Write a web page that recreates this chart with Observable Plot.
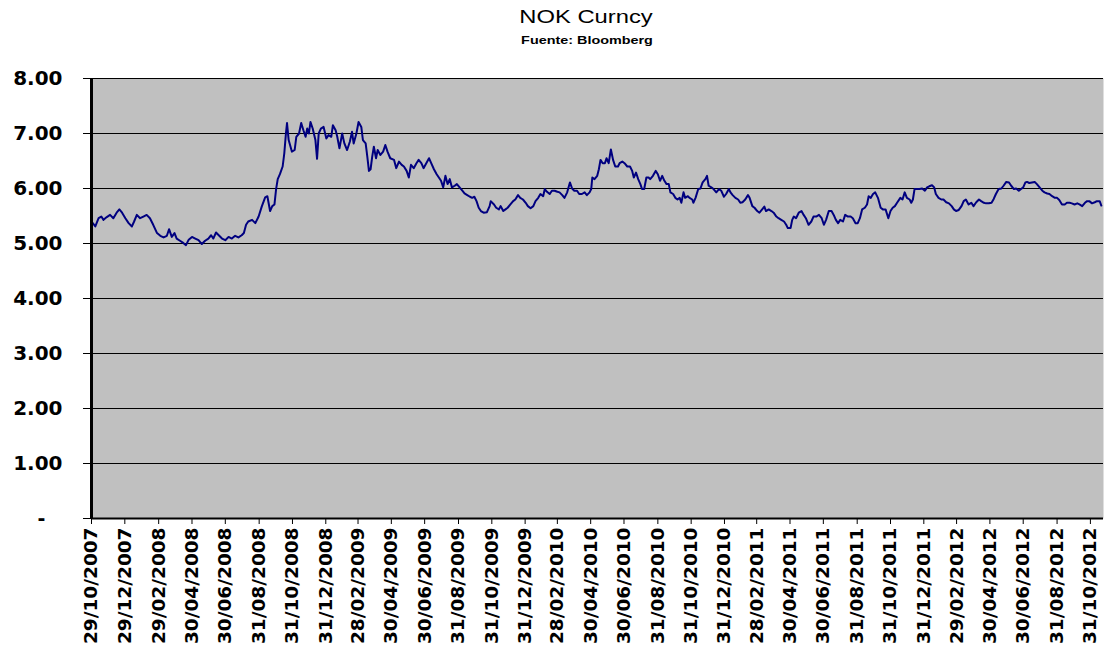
<!DOCTYPE html>
<html>
<head>
<meta charset="utf-8">
<script src="https://cdn.jsdelivr.net/npm/d3@7"></script>
<script src="https://cdn.jsdelivr.net/npm/@observablehq/plot@0.6"></script>
<style>
  body { margin: 0; background: #fff; }
  #wrap { position: relative; width: 1106px; height: 651px; overflow: hidden; }
  #wrap svg { position: absolute; left: 0; top: 0; }
  .ttl { position: absolute; white-space: nowrap; transform: translateX(-50%) scaleX(1.25); transform-origin: center; color: #000; z-index: 2; }
  #title { left: 586px; top: 6px; font: 19px "Liberation Sans", Arial, sans-serif; }
  #subtitle { left: 587px; top: 34px; font: bold 11.5px "Liberation Sans", Arial, sans-serif; }
</style>
</head>
<body>
<div id="wrap">
  <div id="title" class="ttl">NOK Curncy</div>
  <div id="subtitle" class="ttl">Fuente: Bloomberg</div>
</div>
<script>
// Series start date; x values are days elapsed since this date
const startDate = "2007-10-29";

const dayOffset = [
  0,7,13,18,22,28,34,40,46,51,56,62,68,74,78,83,89,95,101,107,113,120,126,132,138,142,147,152,156,162,168,173,178,184,190,196,202,208,214,219,223,228,233,239,245,251,257,263,269,275,279,283,287,294,300,306,312,318,322,327,331,335,338,341,345,350,353,356,358,361,
  367,372,375,380,384,388,392,395,398,401,405,410,413,416,420,425,430,434,439,442,447,450,454,459,463,468,473,477,480,485,489,494,497,502,505,508,511,514,517,521,524,529,534,538,542,547,554,558,563,568,572,577,581,585,590,595,599,604,608,613,618,622,627,632,636,640,644,648,652,656,660,665,669,674,679,683,688,693,697,701,705,709,713,718,724,729,
  731,737,741,746,749,754,758,762,767,772,776,781,785,790,795,799,804,809,813,818,822,827,830,834,839,843,848,853,857,862,866,871,876,880,884,889,893,898,903,907,912,915,917,921,926,929,932,936,940,943,947,951,955,959,964,967,972,976,981,986,990,993,997,1001,1005,1008,1012,1016,1020,1023,1028,1033,1037,1041,1045,1049,1053,1057,1060,1065,1069,1073,1077,1080,1084,1087,1092,1095,1100,1102,
  1106,1111,1115,1119,1124,1127,1130,1135,1139,1144,1149,1153,1158,1162,1167,1170,1174,1179,1184,1188,1192,1197,1202,1205,1210,1214,1219,1223,1228,1232,1235,1240,1245,1249,1254,1258,1263,1268,1272,1275,1280,1283,1286,1290,1295,1300,1304,1308,1313,1318,1322,1327,1332,1337,1341,1345,1350,1355,1359,1363,1367,1371,1376,1380,1385,1390,1394,1399,1403,1407,1411,1416,1420,1423,1427,1431,1435,1440,1445,1449,1454,1459,1463,1467,1471,1475,
  1481,1485,1489,1493,1498,1501,1504,1507,1512,1516,1521,1526,1530,1534,1539,1543,1546,1551,1556,1560,1565,1570,1575,1579,1583,1588,1593,1597,1601,1606,1611,1615,1620,1625,1629,1634,1638,1643,1648,1652,1656,1661,1666,1670,1675,1680,1684,1689,1693,1698,1702,1706,1710,1713,1717,1722,1727,1731,1736,1741,1745,1750,1754,1759,1764,1768,1772,1777,1782,1786,1791,1795,1800,1805,1809,1814,1819,1823,1827,1832,1837,1841,1846,1849
];

const nokRate = [
  5.40,5.31,5.46,5.49,5.43,5.48,5.52,5.46,5.56,5.62,5.56,5.46,5.37,5.31,5.40,5.52,5.46,5.49,5.52,5.46,5.34,5.19,5.14,5.11,5.14,5.26,5.12,5.19,5.09,5.05,5.01,4.97,5.07,5.12,5.09,5.06,4.99,5.05,5.09,5.15,5.09,5.20,5.15,5.09,5.06,5.12,5.09,5.14,5.11,5.15,5.19,5.34,5.40,5.43,5.37,5.49,5.68,5.84,5.86,5.59,5.68,5.71,5.99,6.17,6.26,6.40,6.64,7.00,7.19,6.88,
  6.67,6.70,6.94,7.00,7.19,7.06,6.94,7.09,7.00,7.21,7.09,6.88,6.54,7.00,7.09,7.12,6.91,6.97,6.94,7.15,7.06,6.94,6.73,7.00,6.82,6.70,6.85,7.03,6.82,7.00,7.21,7.12,6.88,6.82,6.58,6.32,6.35,6.58,6.76,6.55,6.70,6.61,6.67,6.79,6.67,6.55,6.52,6.37,6.49,6.43,6.40,6.32,6.20,6.43,6.37,6.46,6.52,6.46,6.37,6.46,6.55,6.46,6.35,6.26,6.20,6.14,6.02,6.23,6.08,6.17,6.02,6.05,6.08,6.02,5.96,5.91,5.88,5.85,5.83,5.85,5.77,5.65,5.59,5.56,5.57,5.68,
  5.77,5.71,5.65,5.62,5.68,5.59,5.62,5.65,5.71,5.77,5.80,5.88,5.83,5.80,5.74,5.68,5.64,5.68,5.77,5.83,5.90,5.86,5.99,5.94,5.90,5.96,5.96,5.94,5.93,5.88,5.83,5.93,6.11,6.00,5.96,5.96,5.90,5.90,5.93,5.88,5.93,5.99,6.20,6.17,6.23,6.35,6.52,6.46,6.46,6.55,6.46,6.71,6.52,6.40,6.40,6.46,6.49,6.46,6.40,6.40,6.32,6.20,6.29,6.17,6.08,5.99,5.99,6.20,6.20,6.17,6.23,6.32,6.26,6.14,6.23,6.14,6.08,6.08,5.93,5.90,5.83,5.80,5.83,5.74,5.93,5.83,5.86,5.83,5.80,5.74,
  5.83,5.99,6.00,6.11,6.17,6.23,6.05,6.02,5.99,5.93,5.99,5.96,5.85,5.90,5.99,5.93,5.88,5.83,5.80,5.74,5.75,5.80,5.88,5.83,5.68,5.65,5.59,5.56,5.62,5.67,5.59,5.62,5.59,5.56,5.49,5.46,5.43,5.40,5.34,5.28,5.28,5.43,5.49,5.46,5.56,5.59,5.52,5.46,5.34,5.40,5.49,5.49,5.52,5.46,5.34,5.43,5.59,5.59,5.52,5.43,5.37,5.43,5.40,5.52,5.49,5.49,5.46,5.37,5.37,5.46,5.62,5.65,5.71,5.86,5.83,5.90,5.93,5.83,5.65,5.62,5.62,5.46,5.59,5.65,5.68,5.74,
  5.83,5.80,5.93,5.83,5.80,5.74,5.80,5.99,5.99,5.99,6.00,5.96,6.02,6.04,6.06,6.02,5.90,5.83,5.80,5.80,5.75,5.73,5.68,5.62,5.59,5.61,5.68,5.77,5.80,5.71,5.74,5.68,5.75,5.80,5.77,5.74,5.73,5.73,5.74,5.81,5.90,5.99,6.00,6.05,6.12,6.11,6.05,5.99,6.00,5.96,5.99,6.02,6.11,6.12,6.10,6.11,6.12,6.08,6.02,5.96,5.93,5.91,5.90,5.86,5.83,5.83,5.79,5.71,5.71,5.74,5.74,5.73,5.71,5.73,5.71,5.68,5.74,5.77,5.77,5.73,5.75,5.77,5.77,5.69
];

const xTickLabels = [
  "29/10/2007","29/12/2007","29/02/2008","30/04/2008","30/06/2008","31/08/2008","31/10/2008","31/12/2008",
  "28/02/2009","30/04/2009","30/06/2009","31/08/2009","31/10/2009","31/12/2009","28/02/2010","30/04/2010",
  "30/06/2010","31/08/2010","31/10/2010","31/12/2010","28/02/2011","30/04/2011","30/06/2011","31/08/2011",
  "31/10/2011","31/12/2011","29/02/2012","30/04/2012","30/06/2012","31/08/2012","31/10/2012"
];
const yTicks = [0,1,2,3,4,5,6,7,8];
const domainEndDays = 1853;

const start = d3.utcParse("%Y-%m-%d")(startDate);
const parseTick = d3.utcParse("%d/%m/%Y");
const tickDates = xTickLabels.map(parseTick);
const data = dayOffset.map((d, i) => ({date: d3.utcDay.offset(start, d), value: nokRate[i]}));

const chart = Plot.plot({
  width: 1106,
  height: 651,
  marginLeft: 91,
  marginRight: 3,
  marginTop: 78,
  marginBottom: 133,
  style: {fontFamily: "DejaVu Sans", fontWeight: "bold", fontSize: "19px", background: "transparent", color: "#000"},
  x: {type: "utc", domain: [start, d3.utcDay.offset(start, domainEndDays)], label: null},
  y: {domain: [0, 8], label: null},
  marks: [
    Plot.frame({fill: "#c0c0c0", stroke: "none"}),
    Plot.gridY(yTicks.filter(v => v > 0), {stroke: "#000", strokeOpacity: 1, strokeWidth: 1}),
    Plot.line(data, {x: "date", y: "value", stroke: "#000080", strokeWidth: 2}),
    Plot.ruleY([0], {stroke: "#000", strokeWidth: 2}),
    Plot.ruleX([start], {stroke: "#000", strokeWidth: 3}),
    Plot.axisY({ticks: yTicks, tickFormat: d => d === 0 ? "" : d.toFixed(2), tickSize: 8, tickPadding: 21, fontSize: 20, stroke: "#000", label: null}),
    Plot.text([0], {y: d => d, text: () => "-", frameAnchor: "left", dx: -46, textAnchor: "end", fontSize: 19, fill: "#000"}),
    Plot.axisX({ticks: tickDates, tickFormat: d3.utcFormat("%d/%m/%Y"), tickRotate: -90, tickSize: 6, tickPadding: 3, fontSize: 18.5, stroke: "#000", label: null})
  ]
});
document.getElementById("wrap").appendChild(chart);
</script>
</body>
</html>
